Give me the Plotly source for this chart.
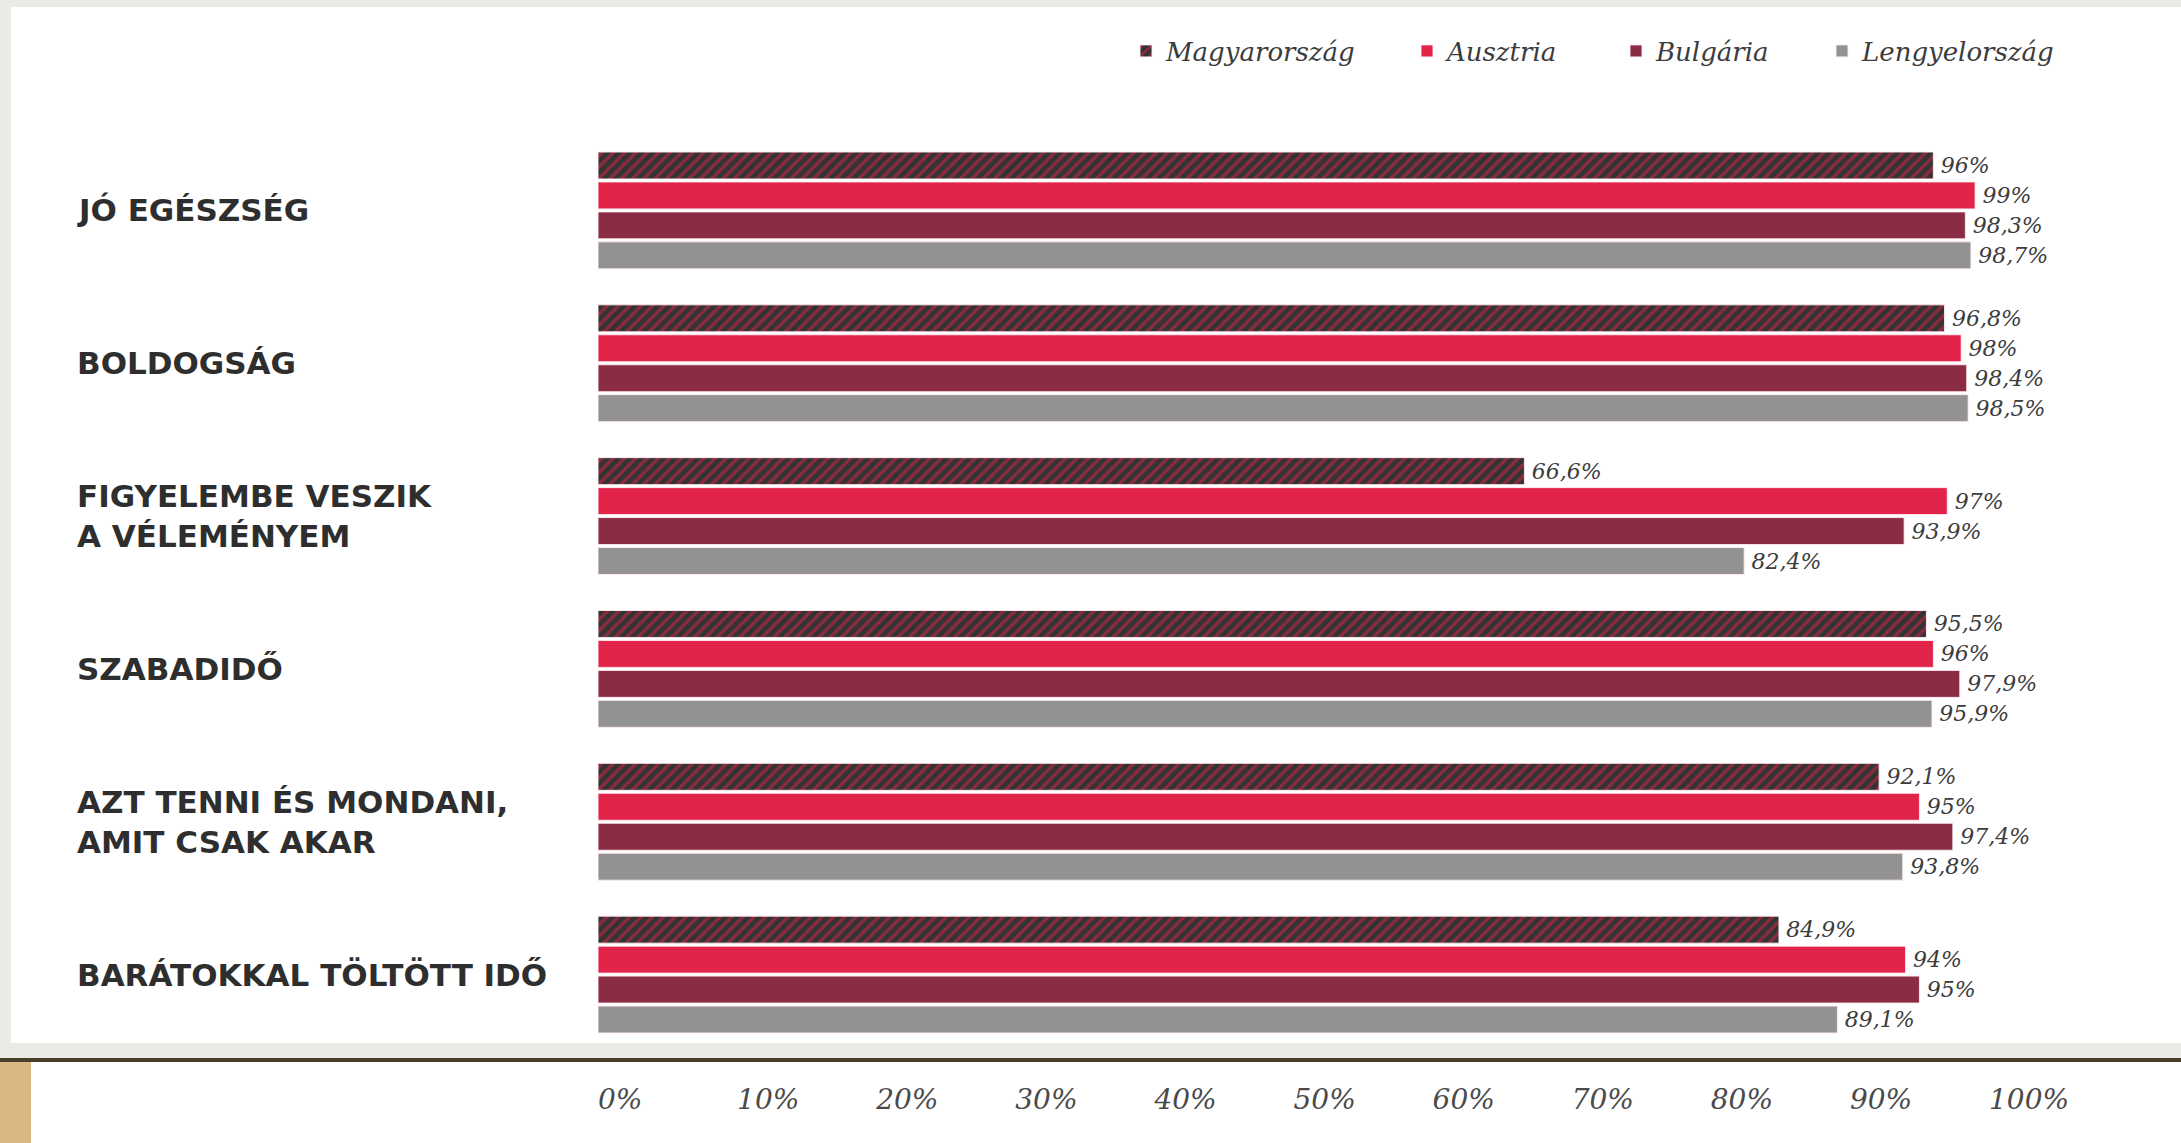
import plotly.graph_objects as go

categories = ["JÓ EGÉSZSÉG", "BOLDOGSÁG", "FIGYELEMBE VESZIK<br>A VÉLEMÉNYEM", "SZABADIDŐ",
              "AZT TENNI ÉS MONDANI,<br>AMIT CSAK AKAR", "BARÁTOKKAL TÖLTÖTT IDŐ"]
series_names = ["Magyarország", "Ausztria", "Bulgária", "Lengyelország"]
magyarorszag = [96, 96.8, 66.6, 95.5, 92.1, 84.9]
ausztria = [99, 98, 97, 96, 95, 94]
bulgaria = [98.3, 98.4, 93.9, 97.9, 97.4, 95]
lengyelorszag = [98.7, 98.5, 82.4, 95.9, 93.8, 89.1]
tick_values = [0, 10, 20, 30, 40, 50, 60, 70, 80, 90, 100]
tick_labels = ["0%", "10%", "20%", "30%", "40%", "50%", "60%", "70%", "80%", "90%", "100%"]

W, H = 2181, 1143
ML, MR, MT, MB = 598, 192, 134, 92
PW, PH = W - ML - MR, H - MT - MB


def px(x):
    return (x - ML) / PW


def py(y):
    return (H - MB - y) / PH


def fmt(v):
    s = ("%g" % v).replace(".", ",")
    return "\u2009" + s + "%"


serif = "DejaVu Serif"
txtcol = "#3c3c3c"
colors = ["#333333", "#e2234a", "#8b2c45", "#929292"]
all_vals = [magyarorszag, ausztria, bulgaria, lengyelorszag]
legend_ids = ["legend", "legend2", "legend3", "legend4"]
legend_x = [1126, 1407, 1616, 1822]

fig = go.Figure()
for i, (name, vals) in enumerate(zip(series_names, all_vals)):
    marker = dict(color=colors[i], line=dict(color="rgba(255,235,240,0.9)", width=1))
    if i == 0:
        marker["pattern"] = dict(shape="/", fgcolor="#e2234a", bgcolor="#333333",
                                 size=8, solidity=0.42)
    fig.add_trace(go.Bar(
        name=name, y=categories, x=vals, orientation="h",
        marker=marker, legend=legend_ids[i],
        text=[fmt(v) for v in vals], textposition="outside", cliponaxis=False,
        textfont=dict(family=serif, size=22, color=txtcol, style="italic"),
        hoverinfo="x+name",
    ))

for c in categories:
    fig.add_annotation(x=px(75), xref="paper", y=c, yref="y", text="<b>" + c + "</b>",
                       showarrow=False, xanchor="left", yanchor="middle", align="left",
                       font=dict(family="DejaVu Sans", size=31, color="#2e2e2e", weight=700))

shapes = [
    dict(type="rect", xref="paper", yref="paper", x0=px(0), x1=px(W), y0=py(1043), y1=py(0),
         fillcolor="#ebeae6", line=dict(width=0), layer="below"),
    dict(type="rect", xref="paper", yref="paper", x0=px(11), x1=px(W), y0=py(1043), y1=py(7),
         fillcolor="#ffffff", line=dict(width=0), layer="below"),
    dict(type="rect", xref="paper", yref="paper", x0=px(0), x1=px(W), y0=py(1058), y1=py(1043),
         fillcolor="#ebeae6", line=dict(width=0), layer="below"),
    dict(type="rect", xref="paper", yref="paper", x0=px(0), x1=px(W), y0=py(1062), y1=py(1058),
         fillcolor="#4a3f2c", line=dict(width=0), layer="below"),
    dict(type="rect", xref="paper", yref="paper", x0=px(0), x1=px(31), y0=py(H), y1=py(1062),
         fillcolor="#d9b883", line=dict(width=0), layer="below"),
]

legend_common = dict(orientation="h", xanchor="left", y=py(51), yanchor="middle",
                     font=dict(family=serif, size=26, color=txtcol, style="italic"),
                     bgcolor="rgba(0,0,0,0)")
legends = {}
for lid, lx in zip(legend_ids, legend_x):
    legends[lid] = dict(legend_common, x=px(lx))

fig.update_layout(
    width=W, height=H,
    margin=dict(l=ML, r=MR, t=MT, b=MB, autoexpand=False),
    paper_bgcolor="#ffffff", plot_bgcolor="rgba(0,0,0,0)",
    barmode="group", bargap=0.216, bargroupgap=0.1,
    shapes=shapes,
    showlegend=True,
    xaxis=dict(range=[0, 100], tickvals=tick_values, ticktext=tick_labels,
               showgrid=False, zeroline=False, showline=False, ticks="",
               ticklabelposition="outside right", ticklabelstandoff=29,
               tickfont=dict(family=serif, size=28, color="#4a4a4a", style="italic"),
               fixedrange=True),
    yaxis=dict(autorange="reversed", showticklabels=False, showgrid=False, zeroline=False,
               ticks="", fixedrange=True),
    **legends,
)

fig.write_html("out.html", config={"displayModeBar": False},
               post_script="document.body.style.margin='0';")
